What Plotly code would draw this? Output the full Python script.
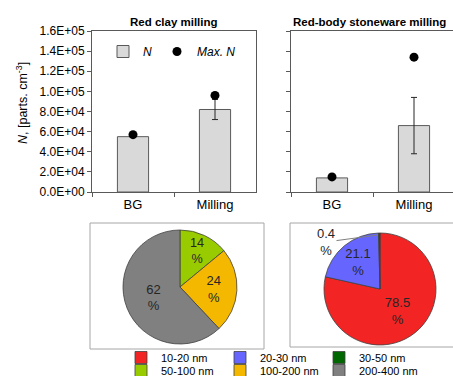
import plotly.graph_objects as go

W, H = 453, 376

# ---- data ----
categories = ["BG", "Milling"]

clay_mean = [55000, 82000]
clay_err = [None, 10000]
clay_max = [57000, 96000]

stoneware_mean = [14000, 66000]
stoneware_err = [None, 28000]
stoneware_max = [15000, 134000]

clay_sizes = ["50-100 nm", "100-200 nm", "200-400 nm"]
clay_share = [14, 24, 62]
clay_colors = ["#99cc00", "#f5b800", "#808080"]

stone_sizes = ["10-20 nm", "20-30 nm", "30-50 nm"]
stone_share = [78.5, 21.1, 0.4]
stone_colors = ["#f22424", "#6666ff", "#006600"]

y_ticks = [0, 20000, 40000, 60000, 80000, 100000, 120000, 140000, 160000]
y_ticktext = [f"{v:.1E}" for v in y_ticks]

FONT = "Arial, Liberation Sans, sans-serif"


def px(x0, x1):
    return [x0 / W, x1 / W]


def py(top, bottom):
    return [1 - bottom / H, 1 - top / H]


fig = go.Figure()

bar_style = dict(marker=dict(color="#d9d9d9", line=dict(color="#595959", width=1)))
err_style = dict(type="data", thickness=1, width=3, color="#262626")
max_style = dict(mode="markers", marker=dict(color="black", size=9))

# bars + max markers, red clay
fig.add_trace(go.Bar(x=categories, y=clay_mean, name="<i>N</i>",
                     error_y=dict(array=clay_err, **err_style),
                     xaxis="x", yaxis="y", legend="legend2", **bar_style))
fig.add_trace(go.Scatter(x=categories, y=clay_max, name="<i>Max. N</i>",
                         xaxis="x", yaxis="y", legend="legend2", **max_style))
# bars + max markers, stoneware
fig.add_trace(go.Bar(x=categories, y=stoneware_mean, showlegend=False,
                     error_y=dict(array=stoneware_err, **err_style),
                     xaxis="x2", yaxis="y2", **bar_style))
fig.add_trace(go.Scatter(x=categories, y=stoneware_max, showlegend=False,
                         xaxis="x2", yaxis="y2", **max_style))

# size distribution pies
pie_common = dict(sort=False, direction="clockwise", rotation=0,
                  texttemplate="%{value}<br>%", insidetextorientation="horizontal",
                  textfont=dict(family=FONT, size=13, color="#262626"),
                  hoverinfo="label+percent")
fig.add_trace(go.Pie(labels=clay_sizes, values=clay_share,
                     marker=dict(colors=clay_colors, line=dict(color="#404040", width=0.8)),
                     domain=dict(x=px(123, 237), y=py(230, 344)),
                     textposition="inside", legend="legend3", **pie_common))
fig.add_trace(go.Pie(labels=stone_sizes, values=stone_share,
                     marker=dict(colors=stone_colors, line=dict(color="#404040", width=0.8)),
                     domain=dict(x=px(324, 436), y=py(233, 345)),
                     textposition=["inside", "inside", "none"], legend="legend", **pie_common))

axis_line = dict(showline=True, linecolor="#595959", linewidth=1)
xcommon = dict(type="category", tickson="boundaries", ticks="outside", ticklen=4,
               tickcolor="#595959", showgrid=False, zeroline=False, automargin=False,
               tickfont=dict(family=FONT, size=13, color="black"), **axis_line)
ycommon = dict(range=[0, 160000], tickvals=y_ticks, showgrid=False, zeroline=False,
               ticks="outside", ticklen=4, tickcolor="#595959", automargin=False,
               **axis_line)

legend_font = dict(family=FONT, size=11, color="black")

fig.update_layout(
    width=W, height=H,
    margin=dict(l=0, r=0, t=0, b=0, autoexpand=False),
    paper_bgcolor="white", plot_bgcolor="white",
    font=dict(family=FONT, color="black"),
    bargap=0.62,
    xaxis=dict(domain=px(92, 256), range=[-0.5, 1.5], mirror=True, anchor="y", **xcommon),
    yaxis=dict(domain=py(31, 192), ticktext=y_ticktext, mirror=True, anchor="x",
               tickfont=dict(family=FONT, size=12, color="black"), **ycommon),
    xaxis2=dict(domain=px(291, 453), range=[-0.5, 1.5 - 2 * 2 / 164], mirror=True,
                anchor="y2", **xcommon),
    yaxis2=dict(domain=py(31, 192), showticklabels=False, mirror=False, anchor="x2",
                **ycommon),
    legend=dict(orientation="h", x=121 / W, xanchor="left", y=1 - 343 / H, yanchor="top",
                entrywidth=54, bgcolor="rgba(0,0,0,0)", font=legend_font),
    legend3=dict(orientation="h", x=121 / W, xanchor="left", y=1 - 356 / H, yanchor="top",
                 entrywidth=54, bgcolor="rgba(0,0,0,0)", font=legend_font),
    legend2=dict(orientation="h", x=103 / W, xanchor="left", y=1 - 37 / H, yanchor="top",
                 bgcolor="rgba(0,0,0,0)", font=dict(family=FONT, size=12, color="black")),
    showlegend=True,
)

# panel titles and y-axis title
fig.add_annotation(text="<b>Red clay milling</b>", x=174 / W, y=1 - 22 / H,
                   xref="paper", yref="paper", xanchor="center", yanchor="middle",
                   showarrow=False, font=dict(family=FONT, size=11.5, color="black"))
fig.add_annotation(text="<b>Red-body stoneware milling</b>", x=291 / W, y=1 - 22 / H,
                   xref="paper", yref="paper", xanchor="left", yanchor="middle",
                   showarrow=False, font=dict(family=FONT, size=11.5, color="black"))
fig.add_annotation(text="<i>N</i>, [parts. cm<sup>-3</sup>]", x=22 / W, y=1 - 103 / H,
                   xref="paper", yref="paper", xanchor="center", yanchor="middle",
                   textangle=-90, showarrow=False,
                   font=dict(family=FONT, size=12.5, color="black"))

# label for the thin 30-50 nm slice, pulled out with a leader line
fig.add_annotation(text=f"{stone_share[2]}<br>%", x=378 / W, y=1 - 235 / H,
                   xref="paper", yref="paper", ax=-52, ay=7, showarrow=True,
                   arrowhead=0, arrowwidth=1, arrowcolor="#7f7f7f",
                   font=dict(family=FONT, size=13, color="#262626"))

# frames around the pies
fig.add_shape(type="rect", xref="paper", yref="paper",
              x0=90 / W, x1=264 / W, y0=1 - 349 / H, y1=1 - 223 / H,
              line=dict(color="#a6a6a6", width=1))
fig.add_shape(type="rect", xref="paper", yref="paper",
              x0=290 / W, x1=460 / W, y0=1 - 347 / H, y1=1 - 223 / H,
              line=dict(color="#a6a6a6", width=1))

fig.write_html("out.html")
